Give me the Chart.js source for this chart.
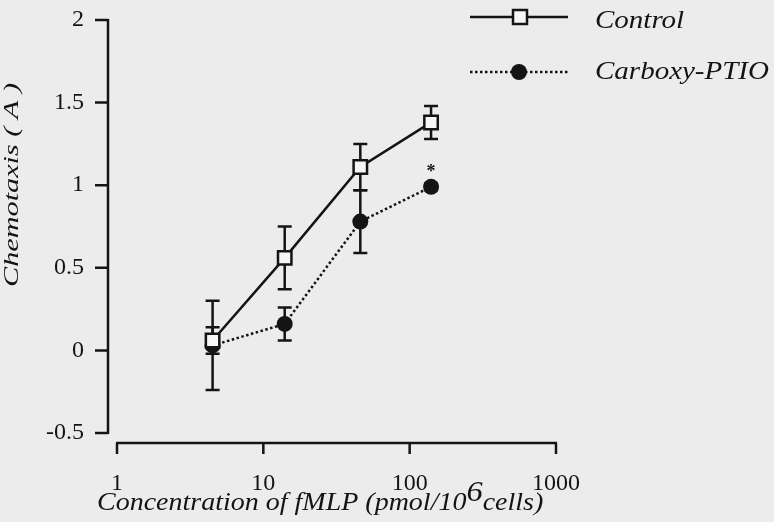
<!DOCTYPE html>
<html>
<head>
<meta charset="utf-8">
<script src="https://cdn.jsdelivr.net/npm/chart.js@4.4.0/dist/chart.umd.min.js"></script>
<style>
html, body { margin: 0; padding: 0; background: #ececec; }
</style>
</head>
<body>
<canvas id="myChart" width="774" height="522"></canvas>
<script>
// fMLP concentration (pmol/10^6 cells), shared by both series
var concentrations = [4.5, 14, 46, 140]
var controlMean = [0.06, 0.56, 1.11, 1.38]
var controlErr = [0.08, 0.19, 0.14, 0.10]
var ptioMean = [0.03, 0.16, 0.78, 0.99]
var ptioErr = [0.27, 0.10, 0.19, 0.02]
var seriesNames = ['Control', 'Carboxy-PTIO']
var xTicks = [1, 10, 100, 1000]
var yTicks = [-0.5, 0, 0.5, 1, 1.5, 2]
var starIndex = 3   // significant point of Carboxy-PTIO

var ink = '#141414'
var serif = '"Liberation Serif", "Times New Roman", serif'

function toPoints(xs, ys) {
    let pts = []
    for (let i = 0; i < xs.length; i++) {
        pts.push({ x: xs[i], y: ys[i] })
    }
    return pts
}

// the scanned figure uses a wide serif, so stretch text a bit
function wideText(ctx, text, x, y, stretch) {
    ctx.save()
    ctx.translate(x, y)
    ctx.scale(stretch, 1)
    ctx.fillText(text, 0, 0)
    ctx.restore()
    return ctx.measureText(text).width * stretch
}

var errors = [controlErr, ptioErr]
var means = [controlMean, ptioMean]

var prismPlugin = {
    id: 'prism',
    beforeDatasetsDraw: function(chart) {
        let ctx = chart.ctx
        let xs = chart.scales.x
        let ys = chart.scales.y
        let area = chart.chartArea
        ctx.save()
        ctx.strokeStyle = ink
        ctx.lineWidth = 2.5
        ctx.lineCap = 'butt'

        // detached axes
        let axX = area.left - 9
        let axY = area.bottom + 10
        ctx.beginPath()
        ctx.moveTo(axX, ys.getPixelForValue(2) - 1)
        ctx.lineTo(axX, ys.getPixelForValue(-0.5) + 1)
        yTicks.forEach(function(v) {
            let py = ys.getPixelForValue(v)
            ctx.moveTo(axX - 13, py)
            ctx.lineTo(axX, py)
        })
        ctx.moveTo(xs.getPixelForValue(1) - 1, axY)
        ctx.lineTo(xs.getPixelForValue(1000) + 1, axY)
        xTicks.forEach(function(v) {
            let px = xs.getPixelForValue(v)
            ctx.moveTo(px, axY)
            ctx.lineTo(px, axY + 11)
        })
        ctx.stroke()

        // error bars
        for (let d = 0; d < means.length; d++) {
            for (let i = 0; i < concentrations.length; i++) {
                let px = xs.getPixelForValue(concentrations[i])
                let top = ys.getPixelForValue(means[d][i] + errors[d][i])
                let bot = ys.getPixelForValue(means[d][i] - errors[d][i])
                ctx.beginPath()
                ctx.moveTo(px, top)
                ctx.lineTo(px, bot)
                ctx.moveTo(px - 7, top)
                ctx.lineTo(px + 7, top)
                ctx.moveTo(px - 7, bot)
                ctx.lineTo(px + 7, bot)
                ctx.stroke()
            }
        }
        ctx.restore()
    },
    afterDraw: function(chart) {
        let ctx = chart.ctx
        let xs = chart.scales.x
        let ys = chart.scales.y
        ctx.save()
        ctx.fillStyle = ink
        ctx.strokeStyle = ink
        ctx.textBaseline = 'alphabetic'
        ctx.textAlign = 'left'

        // y title
        ctx.save()
        ctx.translate(18, 287)
        ctx.rotate(-Math.PI / 2)
        ctx.font = 'italic 22px ' + serif
        let w = ctx.measureText('Chemotaxis ( A )').width
        wideText(ctx, 'Chemotaxis ( A )', 0, 0, 204 / w)
        ctx.restore()

        // x title with superscript
        let tx = 97
        let base = 510
        let st = 1.12
        ctx.font = 'italic 25px ' + serif
        tx += wideText(ctx, 'Concentration of fMLP (pmol/10', tx, base, st)
        ctx.font = 'italic 29px ' + serif
        tx += wideText(ctx, '6', tx, base - 9, st)
        ctx.font = 'italic 25px ' + serif
        wideText(ctx, 'cells)', tx, base, st)

        // significance mark
        let sx = xs.getPixelForValue(concentrations[starIndex])
        let sy = ys.getPixelForValue(ptioMean[starIndex])
        ctx.font = 'bold 18px ' + serif
        ctx.textAlign = 'center'
        ctx.fillText('*', sx, sy - 10)
        ctx.textAlign = 'left'

        // legend
        let rows = [17, 72]
        let baselines = [28, 79]
        ctx.lineWidth = 2.5
        for (let k = 0; k < 2; k++) {
            let ly = rows[k]
            ctx.beginPath()
            ctx.setLineDash(k === 0 ? [] : [2.5, 2.5])
            ctx.moveTo(470, ly)
            ctx.lineTo(568, ly)
            ctx.stroke()
            ctx.setLineDash([])
            if (k === 0) {
                ctx.fillStyle = '#f6f6f6'
                ctx.fillRect(513, ly - 7, 14, 14)
                ctx.strokeRect(513, ly - 7, 14, 14)
                ctx.fillStyle = ink
            } else {
                ctx.beginPath()
                ctx.arc(519, ly, 8, 0, Math.PI * 2)
                ctx.fill()
            }
            ctx.font = 'italic 25px ' + serif
            wideText(ctx, seriesNames[k], 595, baselines[k], 1.16)
        }
        ctx.restore()
    }
}

var ctx = document.getElementById('myChart').getContext('2d')

var chart = new Chart(ctx, {
    type: 'scatter',
    data: {
        datasets: [{
            label: seriesNames[0],
            data: toPoints(concentrations, controlMean),
            showLine: true,
            borderColor: ink,
            borderWidth: 2.5,
            pointStyle: 'rect',
            pointRadius: 9.5,
            pointBackgroundColor: '#f6f6f6',
            pointBorderColor: ink,
            pointBorderWidth: 2.5
        }, {
            label: seriesNames[1],
            data: toPoints(concentrations, ptioMean),
            showLine: true,
            borderColor: ink,
            borderWidth: 2.5,
            borderDash: [2.5, 2.5],
            pointStyle: 'circle',
            pointRadius: 8,
            pointBackgroundColor: ink,
            pointBorderColor: ink,
            pointBorderWidth: 0
        }]
    },
    options: {
        responsive: false,
        animation: false,
        layout: { padding: { top: 20, right: 218, left: 0, bottom: 0 } },
        plugins: {
            legend: { display: false },
            tooltip: { enabled: false }
        },
        scales: {
            x: {
                type: 'logarithmic',
                min: 1,
                max: 1000,
                afterBuildTicks: function(s) { s.ticks = xTicks.map(v => ({ value: v })) },
                afterFit: function(s) { s.height = 89; s.paddingLeft = 0; s.paddingRight = 0 },
                grid: { display: false },
                border: { display: false },
                ticks: {
                    color: ink,
                    padding: 28,
                    maxRotation: 0,
                    autoSkip: false,
                    font: { family: serif, size: 24 },
                    callback: function(v) { return String(v) }
                }
            },
            y: {
                min: -0.5,
                max: 2,
                afterBuildTicks: function(s) { s.ticks = yTicks.map(v => ({ value: v })) },
                afterFit: function(s) { s.width = 117; s.paddingTop = 0; s.paddingBottom = 0 },
                grid: { display: false },
                border: { display: false },
                ticks: {
                    color: ink,
                    padding: 25,
                    font: { family: serif, size: 24 },
                    callback: function(v) { return String(v) }
                }
            }
        }
    },
    plugins: [prismPlugin]
})
</script>
</body>
</html>
